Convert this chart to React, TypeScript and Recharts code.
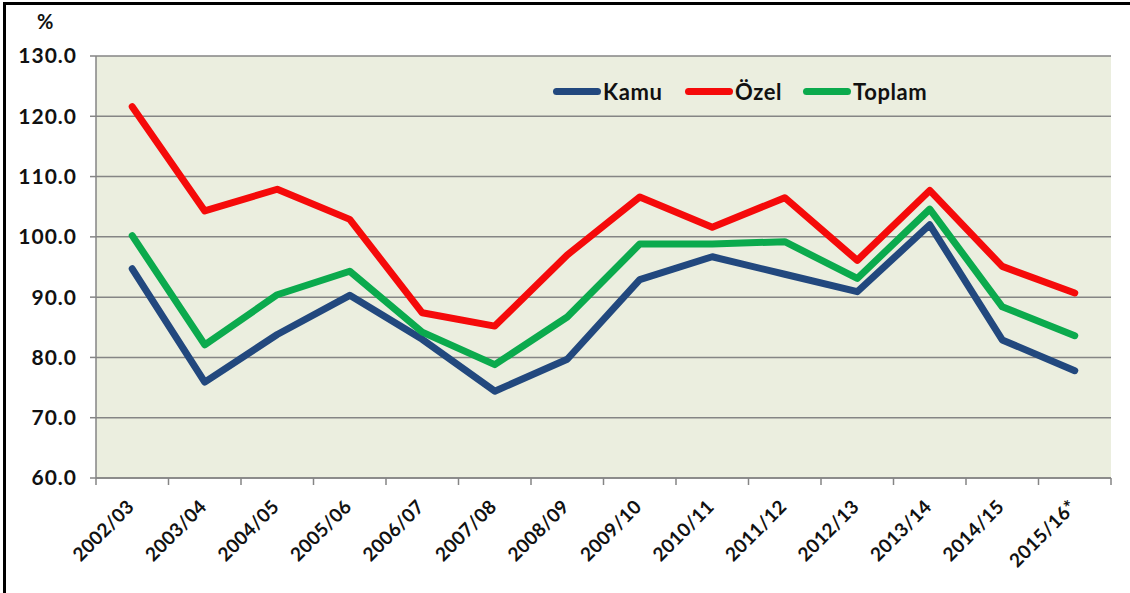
import React from "react";
import { LineChart, Line, XAxis, YAxis, CartesianGrid } from "recharts";

const years = [
  "2002/03", "2003/04", "2004/05", "2005/06", "2006/07", "2007/08", "2008/09",
  "2009/10", "2010/11", "2011/12", "2012/13", "2013/14", "2014/15", "2015/16*",
];
const kamu = [94.7, 75.9, 83.8, 90.3, 83.0, 74.4, 79.7, 92.9, 96.7, 93.8, 90.9, 102.0, 82.9, 77.8];
const ozel = [121.6, 104.3, 107.9, 102.9, 87.4, 85.2, 97.0, 106.6, 101.6, 106.5, 96.1, 107.7, 95.1, 90.7];
const toplam = [100.2, 82.1, 90.4, 94.3, 84.2, 78.8, 86.7, 98.8, 98.8, 99.2, 93.1, 104.6, 88.4, 83.6];
const yTicks = [60, 70, 80, 90, 100, 110, 120, 130];

const data = years.map((y, i) => ({ year: y, kamu: kamu[i], ozel: ozel[i], toplam: toplam[i] }));

const W = 1130;
const H = 593;
const margin = { top: 56, right: 19, left: 0, bottom: 5 };
const yAxisWidth = 96;
const plotWidth = W - margin.left - margin.right - yAxisWidth;
const step = plotWidth / years.length;
const font = "Lato, 'Open Sans', sans-serif";
const gridColor = "#858585";

const series = [
  { key: "kamu", name: "Kamu", color: "#22487E", left: 553 },
  { key: "ozel", name: "Özel", color: "#F50A0A", left: 685 },
  { key: "toplam", name: "Toplam", color: "#0BAA4D", left: 803 },
];

function XTick(props: any) {
  const { x, y, payload, index } = props;
  const axisY = y - 10;
  const ax = x + 3;
  const ay = y + 20;
  return (
    <g>
      <line x1={x - step / 2} x2={x - step / 2} y1={axisY} y2={axisY + 7} stroke={gridColor} strokeWidth={1.5} />
      {index === years.length - 1 && (
        <line x1={x + step / 2} x2={x + step / 2} y1={axisY} y2={axisY + 7} stroke={gridColor} strokeWidth={1.5} />
      )}
      <text
        x={ax}
        y={ay}
        textAnchor="end"
        transform={`rotate(-45, ${ax}, ${ay})`}
        fontFamily={font}
        fontWeight={700}
        fontSize={19}
        letterSpacing={0.3}
        fill="#111"
      >
        {payload.value}
      </text>
    </g>
  );
}

export default function App() {
  return (
    <div style={{ position: "absolute", left: 0, top: 0, width: W, height: H, background: "#fff" }}>
      <div
        style={{
          position: "absolute",
          left: 3,
          top: 2,
          width: W,
          height: H,
          borderTop: "3px solid #000",
          borderLeft: "3px solid #000",
          boxSizing: "border-box",
        }}
      />
      <div
        style={{
          position: "absolute",
          left: 37,
          top: 9,
          fontFamily: font,
          fontWeight: 700,
          fontSize: 20,
          color: "#111",
        }}
      >
        %
      </div>
      {series.map((s) => (
        <div
          key={s.key}
          style={{
            position: "absolute",
            left: s.left,
            top: 78,
            display: "flex",
            alignItems: "center",
            fontFamily: font,
            fontWeight: 700,
            fontSize: 22,
            letterSpacing: 0.6,
            color: "#111",
            zIndex: 2,
          }}
        >
          <div style={{ width: 48, height: 7, borderRadius: 4, background: s.color, marginRight: 2 }} />
          <span>{s.name}</span>
        </div>
      ))}
      <LineChart width={W} height={H} data={data} margin={margin}>
        <CartesianGrid vertical={false} fill="#EBEEDF" stroke={gridColor} strokeWidth={1.5} />
        <XAxis
          dataKey="year"
          interval={0}
          padding={{ left: step / 2, right: step / 2 }}
          height={110}
          axisLine={{ stroke: gridColor, strokeWidth: 1.5 }}
          tickLine={false}
          tickSize={6}
          tickMargin={4}
          tick={<XTick />}
        />
        <YAxis
          domain={[60, 130]}
          ticks={yTicks}
          interval={0}
          width={yAxisWidth}
          tickFormatter={(v: number) => v.toFixed(1)}
          axisLine={{ stroke: gridColor, strokeWidth: 1.5 }}
          tickLine={{ stroke: gridColor, strokeWidth: 1.5 }}
          tickSize={6}
          tickMargin={13}
          tick={{ fontFamily: font, fontWeight: 700, fontSize: 21, letterSpacing: 1, fill: "#111" }}
        />
        {series.map((s) => (
          <Line
            key={s.key}
            dataKey={s.key}
            name={s.name}
            stroke={s.color}
            strokeWidth={7}
            strokeLinejoin="round"
            strokeLinecap="round"
            dot={false}
            activeDot={false}
            isAnimationActive={false}
          />
        ))}
      </LineChart>
    </div>
  );
}
